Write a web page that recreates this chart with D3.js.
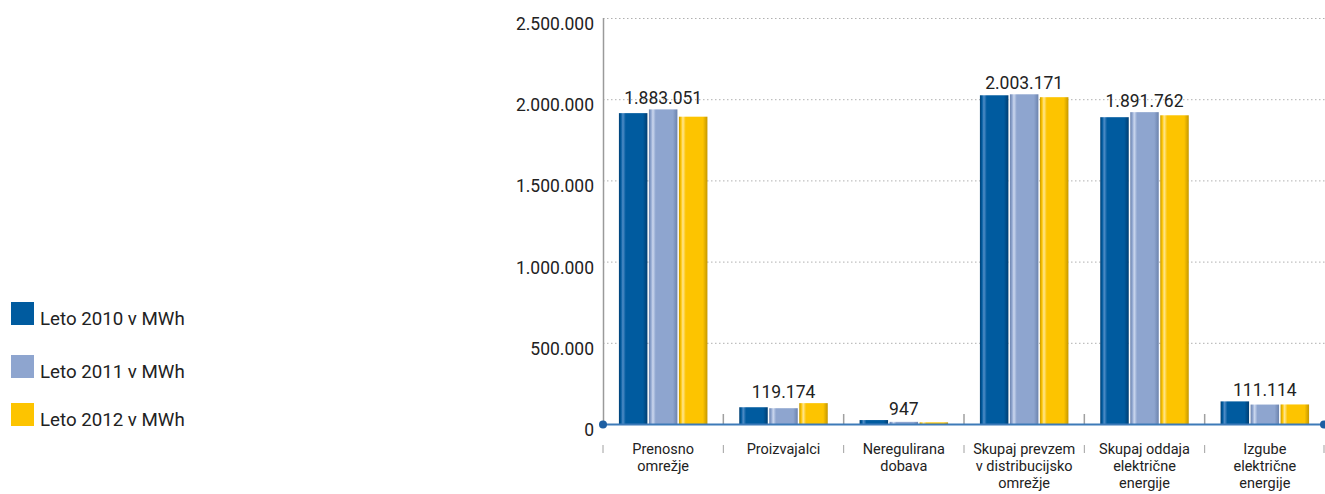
<!DOCTYPE html>
<html><head><meta charset="utf-8">
<script src="https://cdn.jsdelivr.net/npm/d3@7"></script>
<style>body{margin:0;background:#fff;}svg{display:block;font-family:Roboto,"DejaVu Sans",sans-serif;}</style>
</head><body>
<svg id="c" width="1325" height="494"></svg>
<script>
const categories = [
  ["Prenosno","omrežje"],
  ["Proizvajalci"],
  ["Neregulirana","dobava"],
  ["Skupaj prevzem","v distribucijsko","omrežje"],
  ["Skupaj oddaja","električne","energije"],
  ["Izgube","električne","energije"]
];
const seriesNames = ["Leto 2010 v MWh","Leto 2011 v MWh","Leto 2012 v MWh"];
const values2010 = [1905000, 94000, 15000, 2015000, 1880000, 130000];
const values2011 = [1928000, 88000, 4000, 2021000, 1911000, 110500];
const values2012 = [1883051, 119174, 947, 2003171, 1891762, 111114];
const yTicks = [0, 500000, 1000000, 1500000, 2000000, 2500000];

const colors = [
  {main:"#005b9f", hi:"#4f8cc6", dark:"#003e72"},
  {main:"#8ea5cf", hi:"#cbd7ee", dark:"#6c83ad"},
  {main:"#fdc400", hi:"#ffe68f", dark:"#c49700"}
];
const series = [values2010, values2011, values2012];

(function(){
const svg = d3.select("#c");
const pLeft = 603, pRight = 1325, pTop = 18, pBottom = 424;
const fmt = d3.formatLocale({decimal:",", thousands:".", grouping:[3], currency:["",""]}).format(",d");

const x0 = d3.scaleBand().domain(d3.range(categories.length)).range([pLeft, pRight]).paddingInner(0).paddingOuter(0);
const groupW = 88.5;
const x1 = d3.scaleBand().domain(d3.range(series.length)).range([0, groupW]).paddingInner(0.05);
const y = d3.scaleLinear().domain([0, 2500000]).range([pBottom, pTop]);

const defs = svg.append("defs");
colors.forEach((c,i)=>{
  const g = defs.append("linearGradient").attr("id","g"+i).attr("x1","0").attr("x2","1").attr("y1","0").attr("y2","0");
  [[0,c.dark],[0.07,c.main],[0.14,c.hi],[0.24,c.main],[0.84,c.main],[1,c.dark]].forEach(s=>g.append("stop").attr("offset",s[0]).attr("stop-color",s[1]));
});

// gridlines
svg.append("g").selectAll("line").data(yTicks.filter(d=>d>0)).join("line")
  .attr("x1",pLeft).attr("x2",pRight).attr("y1",d=>y(d)+0.5).attr("y2",d=>y(d)+0.5)
  .attr("stroke","#b0b0b0").attr("stroke-dasharray","1.5,2.5");

// y tick labels
svg.append("g").selectAll("text").data(yTicks).join("text")
  .attr("x",594).attr("y",d=>y(d)+12).attr("text-anchor","end")
  .attr("font-size","17.5px").attr("fill","#222").text(d=>fmt(d));

// y axis line
svg.append("line").attr("x1",pLeft+0.5).attr("x2",pLeft+0.5).attr("y1",pTop).attr("y2",pBottom).attr("stroke","#9a9a9a").attr("stroke-width",1.5);

// bars
const groups = svg.append("g").selectAll("g").data(categories.map((c,i)=>i)).join("g")
  .attr("transform",i=>`translate(${x0(i)+(x0.bandwidth()-groupW)/2},0)`);
groups.selectAll("rect").data(i=>series.map((s,k)=>({k, v:s[i]}))).join("rect")
  .attr("x",d=>x1(d.k)).attr("width",x1.bandwidth())
  .attr("y",d=>y(d.v)-1.5).attr("height",d=>Math.max(0,pBottom-y(d.v)+1.5))
  .attr("fill",d=>`url(#g${d.k})`);

// value labels (2012)
svg.append("g").selectAll("text").data(categories.map((c,i)=>i)).join("text")
  .attr("x",i=>x0(i)+x0.bandwidth()/2)
  .attr("y",i=>y(d3.max(series,s=>s[i]))-7)
  .attr("text-anchor","middle").attr("font-size","17.5px").attr("fill","#222")
  .text(i=>fmt(values2012[i]));

// category boundary ticks
const bounds = d3.range(categories.length+1).map(i=> i<categories.length ? x0(i) : pRight);
svg.append("g").selectAll("line").data(bounds.slice(1,-1)).join("line")
  .attr("x1",d=>d).attr("x2",d=>d).attr("y1",414).attr("y2",pBottom)
  .attr("stroke","#a0a0a0").attr("stroke-width",1.5);
svg.append("g").selectAll("line").data(bounds).join("line")
  .attr("x1",d=>Math.min(d,pRight-1)).attr("x2",d=>Math.min(d,pRight-1)).attr("y1",445).attr("y2",453)
  .attr("stroke","#a0a0a0").attr("stroke-width",1);

// x axis line
svg.append("line").attr("x1",pLeft).attr("x2",pRight).attr("y1",pBottom+0.5).attr("y2",pBottom+0.5).attr("stroke","#3d7ab8").attr("stroke-width",2);
svg.append("circle").attr("cx",pLeft).attr("cy",pBottom+0.5).attr("r",4).attr("fill","#1d5fa3");
svg.append("circle").attr("cx",1324).attr("cy",pBottom+0.5).attr("r",4).attr("fill","#1d5fa3");

// category labels
const cl = svg.append("g").selectAll("text").data(categories).join("text")
  .attr("x",(d,i)=>x0(i)+x0.bandwidth()/2).attr("y",454)
  .attr("text-anchor","middle").attr("font-size","14.5px").attr("fill","#222");
cl.selectAll("tspan").data(d=>d).join("tspan")
  .attr("x",function(){return this.parentNode.getAttribute("x");})
  .attr("dy",(d,j)=>j===0?0:17).text(d=>d);

// legend
const legendY = [302, 355, 403];
const lg = svg.append("g").selectAll("g").data(seriesNames).join("g")
  .attr("transform",(d,i)=>`translate(11,${legendY[i]})`);
lg.append("rect").attr("width",23).attr("height",23).attr("fill",(d,i)=>colors[i].main);
lg.append("text").attr("x",29).attr("y",23).attr("font-size","18.7px").attr("fill","#222").text(d=>d);
})();
</script>
</body></html>
